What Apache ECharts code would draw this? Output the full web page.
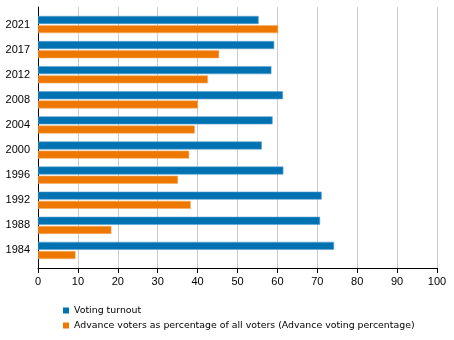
<!DOCTYPE html>
<html><head><meta charset="utf-8">
<script src="https://cdn.jsdelivr.net/npm/echarts@6/dist/echarts.min.js"></script>
<style>html,body{margin:0;padding:0;background:#fff}#c{width:454px;height:340px}</style>
</head><body><div id="c"></div>
<script>
var categories = ['1984','1988','1992','1996','2000','2004','2008','2012','2017','2021'];
var turnout = [74.2, 70.7, 71.1, 61.5, 56.1, 58.8, 61.4, 58.5, 59.2, 55.3];
var advance = [9.4, 18.4, 38.3, 35.1, 37.9, 39.3, 40.1, 42.6, 45.4, 60.2];
var xTicks = [0,10,20,30,40,50,60,70,80,90,100];
var seriesNames = ['Voting turnout','Advance voters as percentage of all voters (Advance voting percentage)'];

var legendText = {fontSize:9.4,color:'#000',fontFamily:'DejaVu Sans'};
var chart = echarts.init(document.getElementById('c'), null, {renderer:'canvas'});
chart.setOption({
  animation:false,
  textStyle:{fontFamily:'Liberation Sans'},
  grid:[
    {left:38,right:17,top:7,bottom:72,containLabel:false},
    {left:38,right:17,top:12,bottom:77,containLabel:false}
  ],
  legend:[
    {orient:'vertical', left:58, top:301, itemWidth:6, itemHeight:6, icon:'rect',
     itemStyle:{borderWidth:0}, textStyle:legendText, data:[seriesNames[0]]},
    {orient:'vertical', left:58, top:316, itemWidth:6, itemHeight:6, icon:'rect',
     itemStyle:{borderWidth:0}, textStyle:legendText, data:[seriesNames[1]]}
  ],
  xAxis:[
    {gridIndex:0, type:'value', min:0, max:100, interval:10,
     axisLine:{show:true,lineStyle:{color:'#000',width:1}},
     axisTick:{show:true,length:5,lineStyle:{color:'#000'}},
     axisLabel:{fontSize:11,color:'#000',margin:8,fontFamily:'Liberation Sans',
       formatter:function(v){return xTicks.indexOf(v)>=0?String(v):'';}},
     splitLine:{show:true,lineStyle:{color:'#cccccc',width:1}}},
    {gridIndex:1, type:'value', min:0, max:100, show:false}
  ],
  yAxis:[
    {gridIndex:0, type:'value', min:0, max:1,
     axisLine:{show:true,lineStyle:{color:'#000',width:1}},
     axisTick:{show:false}, axisLabel:{show:false}, splitLine:{show:false}},
    {gridIndex:1, type:'category', data:categories,
     axisLine:{show:false}, axisTick:{show:false},
     axisLabel:{fontSize:11,color:'#000',margin:8,fontFamily:'Liberation Sans'}}
  ],
  series:[
    {name:seriesNames[0],type:'bar',xAxisIndex:1,yAxisIndex:1,data:turnout,barWidth:8,barGap:'15%',
     itemStyle:{color:'#0072b2',borderColor:'#5fa3cf',borderWidth:0.6}},
    {name:seriesNames[1],type:'bar',xAxisIndex:1,yAxisIndex:1,data:advance,barWidth:8,
     itemStyle:{color:'#ee7700',borderColor:'#f4b068',borderWidth:0.6}}
  ]
});
</script></body></html>
